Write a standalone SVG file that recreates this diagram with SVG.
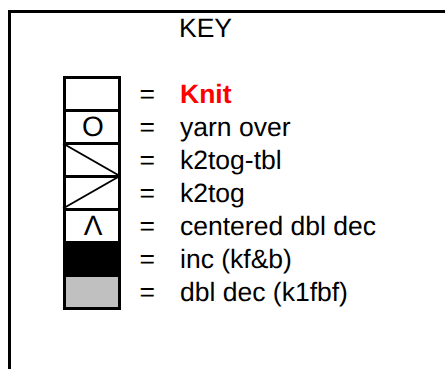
<svg xmlns="http://www.w3.org/2000/svg" width="445" height="369" viewBox="0 0 445 369">
<style>
text{font-family:"Liberation Sans",Arial,sans-serif;font-size:26.5px;fill:#000;text-rendering:geometricPrecision}
.s{font-size:28px}
.g{stroke:#000;stroke-width:3;fill:none}
.t{stroke:#000;stroke-width:2;fill:none}
</style>
<rect width="445" height="369" fill="#fff"/>
<g id="frame"><path class="g" d="M9.500 369V11.500H445"/></g>
<text id="title" x="179" y="37">KEY</text>
<g id="row-knit"><rect class="g" x="64.500" y="77.500" width="55" height="33"/><text x="139.500" y="103">=</text><text x="180" y="103" style="font-weight:700;fill:#f00">Knit</text></g>
<g id="row-yo"><rect class="g" x="64.500" y="110.500" width="55" height="33"/><text class="s" x="93" y="136" text-anchor="middle">O</text><text x="139.500" y="136">=</text><text x="180" y="136">yarn over</text></g>
<g id="row-k2togtbl"><rect class="g" x="64.500" y="143.500" width="55" height="33"/><path class="t" d="M63 143.500L119 175.500"/><text x="139.500" y="169">=</text><text x="180" y="169">k2tog-tbl</text></g>
<g id="row-k2tog"><rect class="g" x="64.500" y="176.500" width="55" height="33"/><path class="t" d="M63 208.500L119 176.500"/><text x="139.500" y="202">=</text><text x="180" y="202">k2tog</text></g>
<g id="row-cdd"><rect class="g" x="64.500" y="209.500" width="55" height="33"/><text class="s" x="93" y="235" text-anchor="middle">Λ</text><text x="139.500" y="235">=</text><text x="180" y="235">centered dbl dec</text></g>
<g id="row-inc"><rect class="g" x="64.500" y="242.500" width="55" height="33" style="fill:#000"/><text x="139.500" y="268">=</text><text x="180" y="268">inc (kf&amp;b)</text></g>
<g id="row-dd"><rect class="g" x="64.500" y="275.500" width="55" height="33" style="fill:#c0c0c0"/><text x="139.500" y="301">=</text><text x="180" y="301">dbl dec (k1fbf)</text></g>
</svg>
